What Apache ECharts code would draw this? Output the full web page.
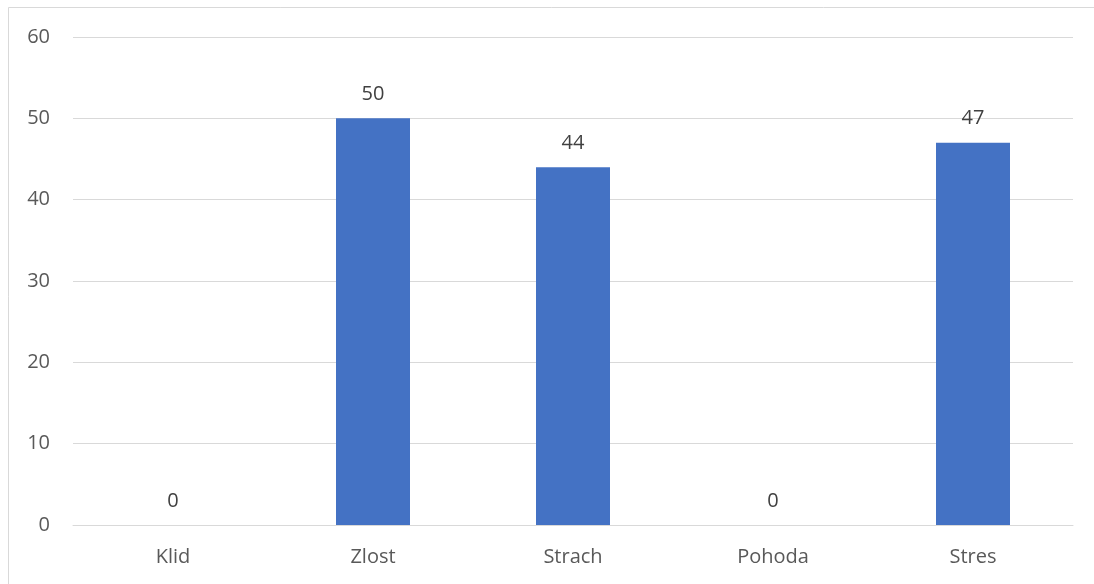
<!DOCTYPE html>
<html><head><meta charset="utf-8">
<script src="https://cdn.jsdelivr.net/npm/echarts@6/dist/echarts.min.js"></script>
<style>html,body{margin:0;padding:0;background:#fff}#c{width:1094px;height:584px}</style>
</head><body><div id="c"></div>
<script>
const categories = ['Klid', 'Zlost', 'Strach', 'Pohoda', 'Stres'];
const values = [0, 50, 44, 0, 47];
const yTicks = [0, 10, 20, 30, 40, 50, 60];

const chart = echarts.init(document.getElementById('c'), null, {renderer: 'canvas'});
const font = '"Open Sans", "Liberation Sans", sans-serif';
chart.setOption({
  animation: false,
  backgroundColor: '#fff',
  graphic: [{type: 'rect', shape: {x: 8.5, y: 7.5, width: 1100, height: 600}, style: {fill: 'none', stroke: '#d9d9d9', lineWidth: 1}, silent: true}],
  grid: {left: 73, right: 21, top: 37, bottom: 59},
  xAxis: {
    type: 'category', data: categories,
    axisLine: {show: true, lineStyle: {color: '#d9d9d9', width: 1}},
    axisTick: {show: false},
    axisLabel: {color: '#595959', fontSize: 20, fontFamily: font, margin: 22}
  },
  yAxis: {
    type: 'value', min: yTicks[0], max: yTicks[yTicks.length - 1], interval: 10,
    axisLine: {show: false}, axisTick: {show: false},
    splitLine: {lineStyle: {color: '#d9d9d9', width: 1}},
    axisLabel: {color: '#595959', fontSize: 20, fontFamily: font, margin: 23}
  },
  series: [{
    type: 'bar', data: values, barWidth: '37%',
    itemStyle: {color: '#4472C4'},
    label: {show: true, position: 'top', distance: 14, color: '#404040', fontSize: 20, fontFamily: font}
  }]
});
</script></body></html>
